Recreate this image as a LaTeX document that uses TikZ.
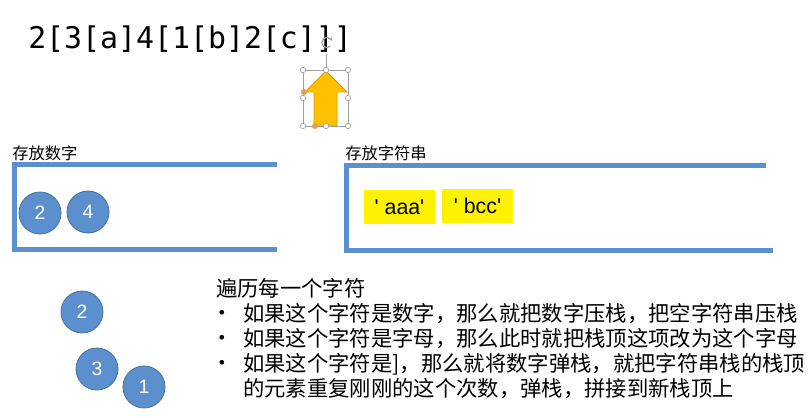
\documentclass[tikz,border=0pt]{standalone}
\usepackage{fontspec}
\setmainfont{Liberation Sans}
\newfontfamily\cjk{Noto Sans CJK SC}
\newfontfamily\monof{DejaVu Sans Mono}
\usetikzlibrary{arrows.meta}
\definecolor{boxblue}{HTML}{5B8FD0}
\definecolor{circfill}{HTML}{5B8FCD}
\definecolor{circline}{HTML}{41719C}
\definecolor{arrowfill}{HTML}{FFC000}
\definecolor{arrowline}{HTML}{D9A000}
\definecolor{handlegray}{HTML}{A0A0A0}
\definecolor{handleorange}{HTML}{E0A050}
\tikzset{
  numcirc/.style={circle, fill=circfill, draw=circline, line width=0.6pt, minimum size=31.5pt, inner sep=0pt, text=white, font=\fontsize{14.5}{16}\selectfont},
  stackline/.style={draw=boxblue, line width=3.75pt, line join=miter},
  strbox/.style={fill=yellow, minimum width=53.25pt, minimum height=25.5pt, inner sep=0pt, font=\fontsize{16}{18}\selectfont},
  cjklabel/.style={anchor=west, inner sep=0pt, font=\cjk\fontsize{12.2}{14}\selectfont},
  bodytext/.style={anchor=west, inner sep=0pt, font=\cjk\fontsize{16}{19}\selectfont},
  bulletmark/.style={inner sep=0pt, font=\fontsize{13}{16}\selectfont},
  handle/.style={circle, draw=handlegray, fill=white, line width=0.5pt, minimum size=4pt, inner sep=0pt},
  ohandle/.style={circle, draw=handleorange, fill=handleorange, line width=0.5pt, minimum size=4pt, inner sep=0pt},
  selbox/.style={draw=handlegray, line width=0.5pt},
  uparrow/.style={fill=arrowfill, draw=arrowline, line width=0.6pt, line join=miter}
}
\begin{document}
\begin{tikzpicture}[x=0.75pt,y=-0.75pt]
\useasboundingbox (0,0) rectangle (812,417);

% title expression
\node[anchor=west, inner sep=0pt, font=\monof\fontsize{22.4}{26}\selectfont] (title) at (28,39) {2[3[a]4[1[b]2[c]]]};

% up arrow with selection frame
\draw[uparrow] (326,71) -- (347,92) -- (337,92) -- (337,126) -- (314,126) -- (314,92) -- (305,92) -- cycle;
\draw[selbox] (303,70) rectangle (348,126);
\coordinate (rottop) at (326,54);
\coordinate (rotbot) at (326,70);
\draw[selbox] (rottop) -- (rotbot);
\draw[draw=handlegray, line width=0.9pt, -{Stealth[length=3pt,width=3.5pt]}] (330.3,46.2) arc[start angle=45, end angle=340, radius=5];
\foreach \px/\py/\nm in {303/70/h1, 326/70/h2, 348/70/h3, 303/98/h4, 348/98/h5, 303/126/h6, 326/126/h7, 348/126/h8}
  \node[handle] (\nm) at (\px,\py) {};
\node[ohandle] (o1) at (304,92) {};
\node[ohandle] (o2) at (315,126) {};

% left stack (numbers)
\node[cjklabel] (lblnum) at (12,153) {存放数字};
\draw[stackline] (277,164) -- (14,164) -- (14,249) -- (277,249);
\node[numcirc] (n2) at (40,213) {2};
\node[numcirc] (n4) at (88,212) {4};

% right stack (strings)
\node[cjklabel] (lblstr) at (345,153) {存放字符串};
\draw[stackline] (766,165) -- (346,165) -- (346,250) -- (773,250);
\node[strbox] (saaa) at (399.5,207) {\textquotesingle{} aaa\textquotesingle};
\node[strbox] (sbcc) at (477.5,205.5) {\textquotesingle{} bcc\textquotesingle};

% loose circles
\node[numcirc] (c2) at (82,312) {2};
\node[numcirc] (c3) at (97,369) {3};
\node[numcirc] (c1) at (144,387) {1};

% description text
\node[bodytext] (t0) at (216,288) {遍历每一个字符};
\node[bulletmark] (b1) at (222,314) {•};
\node[bodytext] (t1) at (243,314) {如果这个字符是数字，那么就把数字压栈，把空字符串压栈};
\node[bulletmark] (b2) at (222,339) {•};
\node[bodytext] (t2) at (243,339) {如果这个字符是字母，那么此时就把栈顶这项改为这个字母};
\node[bulletmark] (b3) at (222,364) {•};
\node[bodytext] (t3) at (243,364) {如果这个字符是]，那么就将数字弹栈，就把字符串栈的栈顶};
\node[bodytext] (t4) at (243,389) {的元素重复刚刚的这个次数，弹栈，拼接到新栈顶上};
\end{tikzpicture}
\end{document}
